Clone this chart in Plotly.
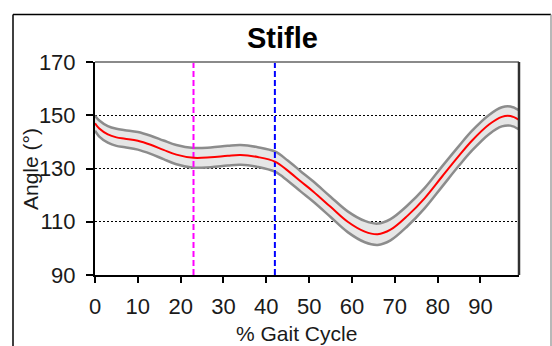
import plotly.graph_objects as go

# ---- data ----
pct_gait = [0, 1, 3, 5, 7, 10, 13, 16, 19, 23, 27, 31, 34, 38, 42, 45,
            48, 51, 55, 59, 63, 66, 69, 73, 77, 81, 85, 88, 92, 95, 97, 99]
mean_angle = [147.0, 145.0, 142.8, 141.7, 141.2, 140.4, 138.9, 137.0, 135.2,
              134.0, 134.2, 134.8, 135.1, 134.3, 132.6, 129.2, 125.2, 121.3,
              115.6, 110.0, 106.3, 105.3, 107.0, 112.3, 118.9, 126.9, 134.8,
              140.4, 146.5, 149.4, 149.7, 148.3]
sd_angle = [2.8, 3.0, 3.1, 3.2, 3.2, 3.3, 3.4, 3.5, 3.6, 3.7, 3.7, 3.7, 3.7,
            3.7, 3.8, 3.8, 3.8, 3.8, 3.8, 3.9, 4.0, 4.0, 4.0, 3.9, 3.8, 3.8,
            3.7, 3.7, 3.6, 3.6, 3.6, 3.6]
event_x = [23, 42]
event_colors = ["#ff00ff", "#0000ff"]
x_ticks = [0, 10, 20, 30, 40, 50, 60, 70, 80, 90]
y_ticks = [90, 110, 130, 150, 170]

upper = [m + s for m, s in zip(mean_angle, sd_angle)]
lower = [m - s for m, s in zip(mean_angle, sd_angle)]

FONT = "Liberation Sans, Arial, sans-serif"
W, H = 552, 346
L, R, T, B = 95, 33, 62, 71
PW, PH = W - L - R, H - T - B


def px(xp):
    return (xp - L) / PW


def py(yp):
    return (H - B - yp) / PH


fig = go.Figure()
fig.add_trace(go.Scatter(x=pct_gait, y=lower, mode="lines",
                         line=dict(color="#8c8c8c", width=2.5, shape="spline"),
                         hoverinfo="skip", showlegend=False))
fig.add_trace(go.Scatter(x=pct_gait, y=upper, mode="lines", fill="tonexty",
                         fillcolor="#e6e6e6",
                         line=dict(color="#8c8c8c", width=2.5, shape="spline"),
                         hoverinfo="skip", showlegend=False))
for ex, col in zip(event_x, event_colors):
    fig.add_trace(go.Scatter(x=[ex, ex], y=[y_ticks[0], y_ticks[-1]], mode="lines",
                             line=dict(color=col, width=2, dash="6px,3px"),
                             showlegend=False))
fig.add_trace(go.Scatter(x=pct_gait, y=mean_angle, mode="lines",
                         line=dict(color="#ff0000", width=2, shape="spline"),
                         showlegend=False))

fig.update_layout(
    width=W, height=H,
    margin=dict(l=L, r=R, t=T, b=B),
    paper_bgcolor="white", plot_bgcolor="white",
    font=dict(family=FONT, size=22, color="#000000"),
    xaxis=dict(range=[0, 99], tickvals=x_ticks, ticks="outside", ticklen=6,
               tickwidth=1.5, tickcolor="black", showline=True, linecolor="black",
               linewidth=2, showgrid=False, zeroline=False,
               tickfont=dict(size=22, family=FONT, color="#1a1a1a"),
               ticklabelstandoff=5),
    yaxis=dict(range=[90, 170], tickvals=y_ticks, ticks="outside", ticklen=7,
               tickwidth=1.5, tickcolor="black", showline=True, linecolor="black",
               linewidth=2, showgrid=True, gridcolor="black", gridwidth=1,
               griddash="2px,2px", zeroline=False,
               tickfont=dict(size=22, family=FONT, color="#1a1a1a"),
               ticklabelstandoff=6),
)

shapes = [
    # plot area top and right borders
    dict(type="line", xref="paper", yref="paper", x0=0, x1=1, y0=1, y1=1,
         line=dict(color="#8a8a8a", width=2)),
    dict(type="line", xref="paper", yref="paper", x0=1, x1=1, y0=0, y1=1,
         line=dict(color="#303030", width=2.5)),
    # outer frame
    dict(type="line", xref="paper", yref="paper", x0=px(13), x1=px(551),
         y0=py(14.5), y1=py(14.5), line=dict(color="black", width=1.5)),
    dict(type="line", xref="paper", yref="paper", x0=px(13), x1=px(13),
         y0=py(14.5), y1=py(360), line=dict(color="black", width=1.5)),
    dict(type="line", xref="paper", yref="paper", x0=px(551), x1=px(551),
         y0=py(14.5), y1=py(360), line=dict(color="#a0a0a0", width=1.5)),
]
fig.update_layout(shapes=shapes)

fig.add_annotation(text="<b>Stifle</b>", xref="paper", yref="paper",
                   x=px(282), y=py(38), showarrow=False,
                   xanchor="center", yanchor="middle",
                   font=dict(size=29, family=FONT, color="black"))
fig.add_annotation(text="% Gait Cycle", xref="paper", yref="paper",
                   x=px(296), y=py(333), showarrow=False,
                   xanchor="center", yanchor="middle",
                   font=dict(size=21, family=FONT, color="#1a1a1a"))
fig.add_annotation(text="Angle (°)", xref="paper", yref="paper",
                   x=px(30), y=py(169), showarrow=False, textangle=-90,
                   xanchor="center", yanchor="middle",
                   font=dict(size=21, family=FONT, color="#1a1a1a"))

fig.write_html("out.html",
               config={"displayModeBar": False},
               post_script="document.body.style.margin='0';"
                           "document.body.style.overflow='hidden';")
